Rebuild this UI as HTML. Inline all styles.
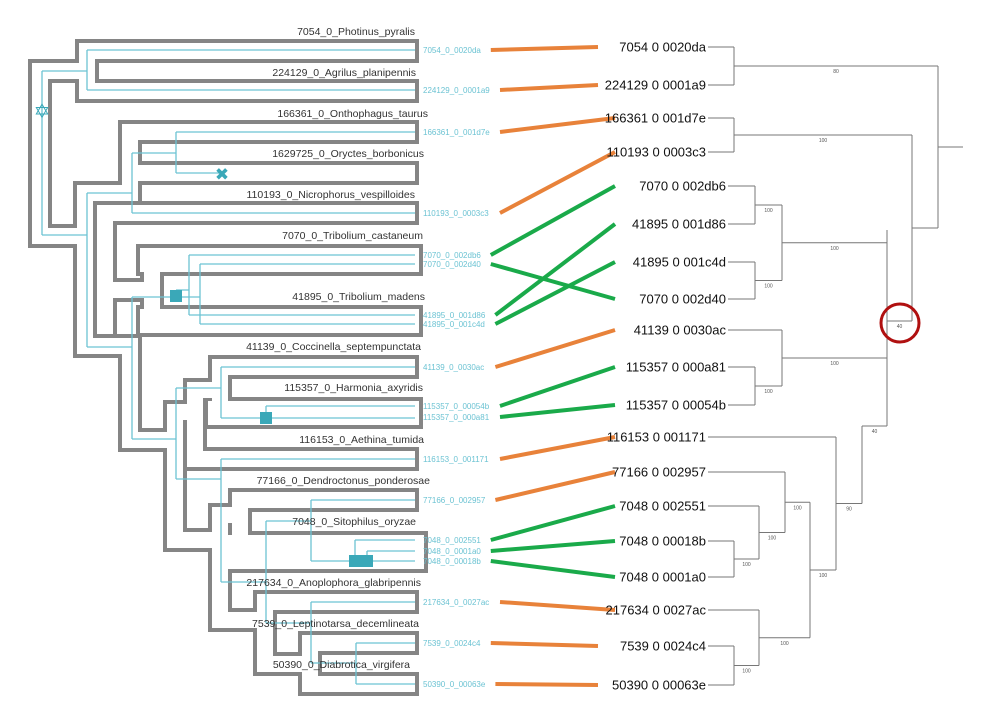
<!DOCTYPE html>
<html><head><meta charset="utf-8">
<style>
html,body{margin:0;padding:0;background:#fff;}
svg{display:block;}
</style></head>
<body>
<svg id="fig" width="988" height="724" viewBox="0 0 988 724" xmlns="http://www.w3.org/2000/svg">
<g id="species"></g>
<g id="gene"></g>
<g id="links"></g>
<g id="rtree"></g>
<circle cx="900" cy="323" r="19" fill="none" stroke="#b01010" stroke-width="3"/>
</svg>
<script>
var NS="http://www.w3.org/2000/svg";
// ---- data ----
var speciesNames=["7054_0_Photinus_pyralis","224129_0_Agrilus_planipennis","166361_0_Onthophagus_taurus","1629725_0_Oryctes_borbonicus","110193_0_Nicrophorus_vespilloides","7070_0_Tribolium_castaneum","41895_0_Tribolium_madens","41139_0_Coccinella_septempunctata","115357_0_Harmonia_axyridis","116153_0_Aethina_tumida","77166_0_Dendroctonus_ponderosae","7048_0_Sitophilus_oryzae","217634_0_Anoplophora_glabripennis","7539_0_Leptinotarsa_decemlineata","50390_0_Diabrotica_virgifera"];
var speciesLabelY=[35,76,117,157,198,239,300,350,391,443,484,525,586,627,668];
var speciesLabelX=[415,416,428,424,415,423,425,421,423,424,430,416,421,419,410];
var geneNames=["7054_0_0020da","224129_0_0001a9","166361_0_001d7e","110193_0_0003c3","7070_0_002db6","7070_0_002d40","41895_0_001d86","41895_0_001c4d","41139_0_0030ac","115357_0_00054b","115357_0_000a81","116153_0_001171","77166_0_002957","7048_0_002551","7048_0_0001a0","7048_0_00018b","217634_0_0027ac","7539_0_0024c4","50390_0_00063e"];
var geneY=[50,90,132,213,255,264,315,324,367,406,417,459,500,540,551,561,602,643,684];
var rightNames=["7054 0 0020da","224129 0 0001a9","166361 0 001d7e","110193 0 0003c3","7070 0 002db6","41895 0 001d86","41895 0 001c4d","7070 0 002d40","41139 0 0030ac","115357 0 000a81","115357 0 00054b","116153 0 001171","77166 0 002957","7048 0 002551","7048 0 00018b","7048 0 0001a0","217634 0 0027ac","7539 0 0024c4","50390 0 00063e"];
var rightY=[47,85,118,152,186,224,262,299,330,367,405,437,472,506,541,577,610,646,685];
var linkFrom=[0,1,2,3,4,5,6,7,8,9,10,11,12,13,14,15,16,17,18];
var linkTo=[0,1,2,3,4,7,5,6,8,9,10,11,12,13,14,15,16,17,18];
var linkType=["o","o","o","o","g","g","g","g","o","g","g","o","o","g","g","g","o","o","o"];
var supports=["80","100","100","100","100","100","100","40","40","90","100","100","100","100","100","100"];

function el(tag,attrs,parent){var e=document.createElementNS(NS,tag);for(var k in attrs)e.setAttribute(k,attrs[k]);parent.appendChild(e);return e;}

// ---- species tree (tubes) ----
var sp=document.getElementById('species');
var tubes=[
 ["M40 71 V236",16],["M40 71 H87",16],["M87 51 V91",16],["M87 51 H407",16],["M87 91 H407",16],
 ["M40 236 H85",16],["M85 193 V346",16],["M85 193 H130",16],["M130 132 V193",16],["M130 132 H407",16],["M130 173 H407",16],
 ["M105 213 V326",16],["M105 213 H407",16],["M105 290 H152",16],["M152 260 V321",16],["M152 260 H407",24],["M152 321 H407",24],
 ["M85 346 H130",16],["M130 346 V440",16],["M130 440 H175",16],["M175 412 V540",16],["M175 412 H195",16],["M195 390 V459",16],["M195 459 H407",16],
 ["M195 390 H220",16],["M220 367 V413",16],["M220 367 H407",16],["M220 413 H407",24],
 ["M175 540 H220",16],["M220 515 V620",16],["M220 515 H240",16],["M240 500 V552",16],["M240 500 H407",16],["M240 552 H407",34],
 ["M220 620 H265",16],["M265 602 V664",16],["M265 602 H407",16],["M265 664 H310",16],["M310 643 V684",16],["M310 643 H407",16],["M310 684 H407",16]
];
tubes.forEach(function(t){var p=el('path',{d:t[0],stroke:'#858585','stroke-width':t[1]+8,fill:'none','stroke-linecap':'square'},sp);

});
tubes.forEach(function(t){var p=el('path',{d:t[0],stroke:'#fff','stroke-width':t[1],fill:'none','stroke-linecap':'square'},sp);

});

// ---- gene tree (cyan) ----
var gn=document.getElementById('gene');
var gpaths=["M42 71 V235","M42 71 H87","M87 50 V90","M87 50 H415","M87 90 H415","M42 235 H87","M87 193 V347",
"M87 193 H132","M132 153 V213","M132 153 H176","M176 132 V173","M176 132 H415","M176 173 H221","M132 213 H415",
"M87 347 H132","M132 297 V439","M132 297 H200","M176 290 V297 M176 290 H189","M189 255 V315","M189 255 H415","M189 315 H415","M200 264 V324","M200 264 H415","M200 324 H415",
"M132 439 H176","M176 388 V479","M176 388 H221","M221 367 V418","M221 367 H415","M221 418 H415","M266 406 V418","M266 406 H415",
"M176 479 H221","M221 459 V582","M221 459 H415","M221 582 H266","M266 521 V623","M266 521 H311","M311 500 V561","M311 500 H415","M311 561 H415","M355 540 V561","M355 540 H415","M367 551 V561","M367 551 H415",
"M266 623 H311","M311 602 V663","M311 602 H415","M311 663 H356","M356 643 V684","M356 643 H415","M356 684 H415"];
gpaths.forEach(function(d){var p=el('path',{d:d,stroke:'#6cc3d3','stroke-width':1.3,fill:'none'},gn);

});
[[176,296],[266,418],[355,561],[367,561]].forEach(function(s){var r=el('rect',{x:s[0]-6,y:s[1]-6,width:12,height:12,fill:'#3aa8b8'},gn);

});
var st=el('text',{x:42,y:118,'text-anchor':'middle','font-size':20,fill:'#3aa8b8','font-family':'DejaVu Sans, sans-serif'},gn);st.textContent='✡';


var xm=el('text',{x:222,y:180,'text-anchor':'middle','font-size':17,'font-weight':'bold',fill:'#3aa8b8','font-family':'DejaVu Sans, sans-serif'},gn);xm.textContent='✖';



speciesNames.forEach(function(n,i){var t=el('text',{x:speciesLabelX[i],y:speciesLabelY[i],'text-anchor':'end','font-size':10.5,fill:'#333','font-family':'Liberation Sans, sans-serif'},sp.parentNode);t.textContent=n;

});
geneNames.forEach(function(n,i){var t=el('text',{x:423,y:geneY[i]+3,'font-size':8,fill:'#6cc3d3','font-family':'Liberation Sans, sans-serif'},gn);t.textContent=n;

});

// ---- links ----
var lk=document.getElementById('links');
linkFrom.forEach(function(f,i){var x1=423+geneNames[f].length*4.6+8;var j=linkTo[i];var y2=rightY[j];var x2=(Math.abs(geneY[f]-y2)<8)?598:615;
var l=el('line',{x1:x1,y1:geneY[f],x2:x2,y2:y2,stroke:linkType[i]=='o'?'#e8823a':'#1aaa4a','stroke-width':4},lk);

});

// ---- right tree ----
var rt=document.getElementById('rtree');
function L(i){return {leaf:i};}
var nC={x:755,c:[L(4),L(5)],s:1},nD={x:755,c:[L(6),L(7)],s:2},nE={x:782,c:[nC,nD],s:4};
var nF={x:755,c:[L(9),L(10)],s:5},nG={x:782,c:[L(8),nF],s:6};
var nN={x:734,c:[L(14),L(15)],s:13},nM={x:759,c:[L(13),nN],s:12},nK={x:785,c:[L(12),nM],s:11};
var nO={x:734,c:[L(17),L(18)],s:15},nL={x:759,c:[L(16),nO],s:14},nJ={x:810,c:[nK,nL],s:10};
var nI={x:836,c:[L(11),nJ],s:9};
var nBot={x:862,c:[nI],s:8,y:426};
var n40={x:887,c:[nE,nG,nBot],s:7,y:321,top:230};
var n1={x:734,c:[L(0),L(1)],s:0},n2={x:734,c:[L(2),L(3)],s:1};
var nB2={x:912,c:[n2,n40]};
var root={x:938,c:[n1,nB2]};
function yOf(n){if(n.leaf!==undefined)return rightY[n.leaf];if(n.y!==undefined)return n.y;var ys=n.c.map(yOf);return (Math.min.apply(null,ys)+Math.max.apply(null,ys))/2;}
function tipX(i){return (i>=4&&i<=10)?728:708;}
function seg(x1,y1,x2,y2){var l=el('line',{x1:x1,y1:y1,x2:x2,y2:y2,stroke:'#777','stroke-width':1},rt);

}
function draw(n){var y=yOf(n);var ys=n.c.map(yOf).concat([y]);if(n.top)ys.push(n.top);
seg(n.x,Math.min.apply(null,ys),n.x,Math.max.apply(null,ys));
n.c.forEach(function(c){var cy=yOf(c);if(c.leaf!==undefined){seg(tipX(c.leaf),cy,n.x,cy);}else{seg(c.x,cy,n.x,cy);draw(c);
if(c.s!==undefined){var t=el('text',{x:(c.x+n.x)/2,y:cy+7,'text-anchor':'middle','font-size':5,fill:'#555','font-family':'Liberation Sans, sans-serif'},rt);t.textContent=supports[c.s];

}}});}
draw(root);
seg(root.x,yOf(root),963,yOf(root));
rightNames.forEach(function(n,i){var t=el('text',{x:tipX(i)-2,y:rightY[i]+4.5,'text-anchor':'end','font-size':13,fill:'#111','font-family':'Liberation Sans, sans-serif'},rt);t.textContent=n;

});
</script>
</body></html>
